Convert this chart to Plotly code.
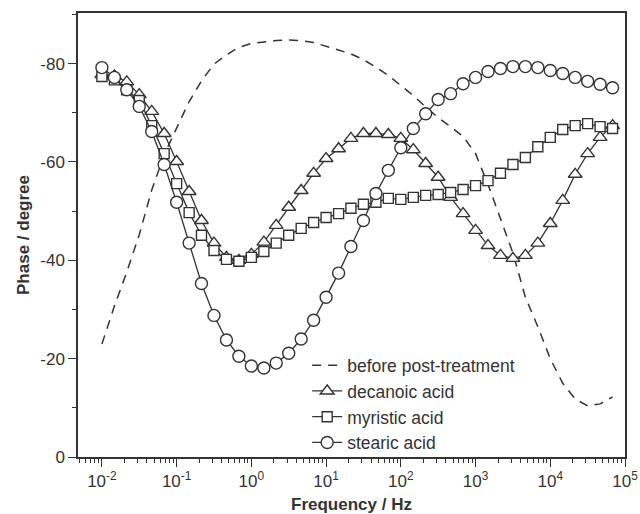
import plotly.graph_objects as go

# Frequency grid (Hz), 6 points per decade
freq = [0.01, 0.0147, 0.0215, 0.0316, 0.0464, 0.0681,
        0.1, 0.147, 0.215, 0.316, 0.464, 0.681,
        1, 1.47, 2.15, 3.16, 4.64, 6.81,
        10, 14.7, 21.5, 31.6, 46.4, 68.1,
        100, 147, 215, 316, 464, 681,
        1000, 1468, 2154, 3162, 4642, 6813,
        10000, 14678, 21544, 31623, 46416, 68129]

before = [-23.0, -30.7, -37.6, -45.2, -54.3, -61.5,
          -66.9, -72.3, -76.5, -79.9, -81.8, -83.3,
          -84.1, -84.4, -84.7, -84.8, -84.7, -84.3,
          -83.5, -82.8, -82.0, -80.8, -79.3, -77.6,
          -75.6, -73.5, -71.2, -69.0, -67.2, -65.2,
          -61.7, -55.4, -48.5, -41.5, -32.5, -26.5,
          -20.0, -15.0, -11.8, -10.4, -10.8, -12.2]

decanoic = [-77.8, -77.5, -76.3, -73.7, -70.3, -65.8,
            -60.1, -54.0, -48.1, -43.5, -40.6, -40.0,
            -41.2, -43.7, -47.1, -50.8, -54.2, -57.7,
            -60.7, -62.7, -64.8, -65.8, -65.8, -65.6,
            -64.8, -62.5, -59.7, -56.9, -52.8, -49.5,
            -46.1, -43.0, -41.0, -40.4, -41.0, -43.5,
            -47.5, -52.2, -57.5, -61.7, -65.0, -67.4]

myristic = [-77.4, -76.7, -74.7, -72.5, -67.4, -61.7,
            -55.6, -49.7, -45.1, -42.0, -40.2, -39.8,
            -40.6, -41.8, -43.5, -45.1, -46.5, -47.7,
            -48.7, -49.5, -50.6, -51.4, -51.8, -52.6,
            -52.4, -52.8, -53.2, -53.4, -53.8, -54.4,
            -55.2, -56.2, -57.7, -59.5, -60.9, -63.1,
            -65.0, -66.6, -67.4, -67.8, -67.2, -66.8]

stearic = [-79.2, -77.2, -74.7, -71.3, -66.2, -59.5,
           -51.8, -43.5, -35.3, -28.8, -23.8, -20.5,
           -18.5, -18.1, -19.1, -21.1, -24.0, -27.8,
           -32.5, -37.4, -42.8, -48.1, -53.6, -58.3,
           -62.9, -66.8, -69.8, -72.7, -73.9, -75.9,
           -77.2, -78.4, -79.0, -79.4, -79.4, -79.2,
           -78.6, -78.0, -77.2, -76.4, -75.8, -75.1]

names = ["before post-treatment", "decanoic acid", "myristic acid", "stearic acid"]

x_tickvals = [0.01, 0.1, 1, 10, 100, 1000, 10000, 100000]
x_ticktext = ["10<sup>-2</sup>", "10<sup>-1</sup>", "10<sup>0</sup>", "10<sup>1</sup>",
              "10<sup>2</sup>", "10<sup>3</sup>", "10<sup>4</sup>", "10<sup>5</sup>"]
x_minor = [m * 10.0 ** e for e in range(-3, 5) for m in range(2, 10)]
y_tickvals = [0, -20, -40, -60, -80]
y_ticktext = ["0", "-20", "-40", "-60", "-80"]
y_minor = [-10, -30, -50, -70, -90]

INK = "#333333"
FONT = "Liberation Sans, Arial, sans-serif"

fig = go.Figure()
fig.add_trace(go.Scatter(x=freq, y=before, mode="lines", name=names[0],
                         line=dict(color=INK, width=1.5, dash="9px,7px")))
fig.add_trace(go.Scatter(x=freq, y=decanoic, mode="lines+markers", name=names[1],
                         line=dict(color=INK, width=1.3),
                         marker=dict(symbol="triangle-up", size=12, color="white",
                                     line=dict(color=INK, width=1.4))))
fig.add_trace(go.Scatter(x=freq, y=myristic, mode="lines+markers", name=names[2],
                         line=dict(color=INK, width=1.3),
                         marker=dict(symbol="square", size=10, color="white",
                                     line=dict(color=INK, width=1.4))))
fig.add_trace(go.Scatter(x=freq, y=stearic, mode="lines+markers", name=names[3],
                         line=dict(color=INK, width=1.3),
                         marker=dict(symbol="circle", size=12, color="white",
                                     line=dict(color=INK, width=1.4))))

fig.update_layout(
    width=640, height=514,
    margin=dict(l=78, r=15, t=13, b=57),
    paper_bgcolor="white", plot_bgcolor="white",
    font=dict(family=FONT, size=17, color=INK),
    showlegend=True,
    legend=dict(x=0.419, y=0.247, xanchor="left", yanchor="top",
                bgcolor="rgba(0,0,0,0)", font=dict(size=17.5, color=INK),
                tracegroupgap=0, itemwidth=30),
    xaxis=dict(type="log", range=[-2.32, 5.0], automargin=False,
               tickmode="array", tickvals=x_tickvals, ticktext=x_ticktext,
               ticks="outside", ticklen=8, tickwidth=1.3, tickcolor=INK,
               minor=dict(tickmode="array", tickvals=x_minor, ticks="outside",
                          ticklen=4, tickwidth=1.1, tickcolor=INK),
               showline=True, linecolor=INK, linewidth=1.5, mirror=True,
               showgrid=False, zeroline=False,
               title=dict(text="<b>Frequency / Hz</b>", font=dict(size=17), standoff=8)),
    yaxis=dict(range=[0, -90.3], automargin=False,
               tickmode="array", tickvals=y_tickvals, ticktext=y_ticktext,
               ticks="outside", ticklen=8, tickwidth=1.3, tickcolor=INK,
               minor=dict(tickmode="array", tickvals=y_minor, ticks="outside",
                          ticklen=4, tickwidth=1.1, tickcolor=INK),
               showline=True, linecolor=INK, linewidth=1.5, mirror=True,
               showgrid=False, zeroline=False,
               title=dict(text="<b>Phase / degree</b>", font=dict(size=17), standoff=6)),
)

fig.write_html("out.html")
